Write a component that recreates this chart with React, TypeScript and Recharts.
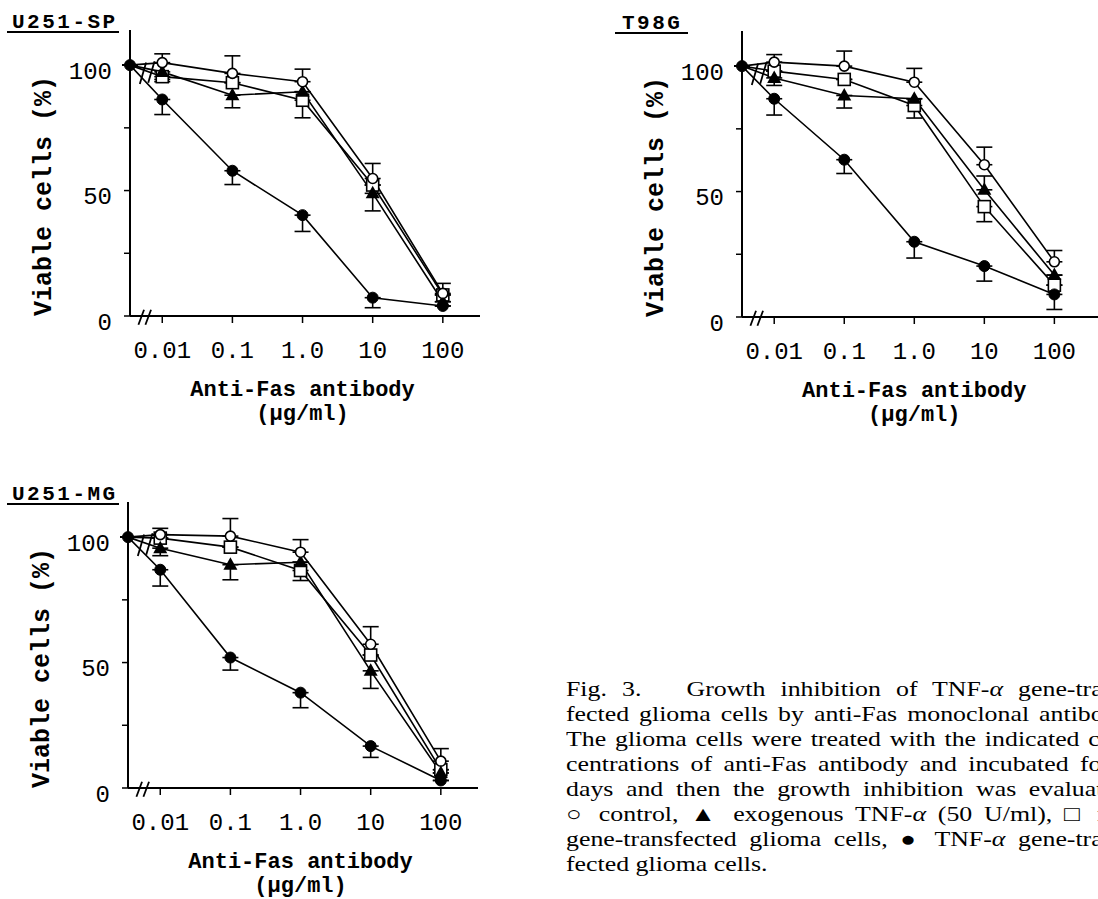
import React from 'react'
import { LineChart, Line, XAxis, YAxis, ErrorBar, ReferenceLine } from 'recharts'

// dose positions on the log axis; first entry is the untreated (0) point left of the break
const doseIndex = [-0.46, 0, 1, 2, 3, 4]
const doseTicks = [0, 1, 2, 3, 4]
const doseLabels = ['0.01', '0.1', '1.0', '10', '100']
const yTicks = [0, 25, 50, 75, 100]

// errors: positive = bar drawn upward, negative = downward
// U251-SP
const spCtrl = [100, 101, 96.7, 93.4, 54.8, 9]
const spCtrlErr = [0, 3.5, 7, 5, 6, 4]
const spTnf = [100, 97.3, 88, 89.4, 48.9, 5.7]
const spTnfErr = [0, -3, -5, 0, -7, 0]
const spNeo = [100, 95.4, 93, 86, 52.2, 8.4]
const spNeoErr = [0, -2, 0, -7, 0, 0]
const spGene = [100, 86.3, 57.9, 40.2, 7.3, 4]
const spGeneErr = [0, -6, -5.5, -6.5, -4, 0]

// T98G
const t98Ctrl = [100, 101.6, 100, 93.6, 60.7, 22]
const t98CtrlErr = [0, 3, 6, 5.5, 7, 4.5]
const t98Tnf = [100, 95.3, 88.3, 87, 50.7, 16.7]
const t98TnfErr = [0, -3, -5, 0, 5.5, 0]
const t98Neo = [100, 98, 94.7, 84.3, 44, 12.7]
const t98NeoErr = [0, 0, 0, -5, -6, 0]
const t98Gene = [100, 87, 62.7, 30, 20.3, 9]
const t98GeneErr = [0, -6.5, -5.5, -6.5, -6, -6]

// U251-MG
const mgCtrl = [100, 101, 100.4, 94, 57.3, 10.7]
const mgCtrlErr = [0, 2.5, 7, 5, 7, 5]
const mgTnf = [100, 95.6, 89, 90, 46.7, 6]
const mgTnfErr = [0, -3, -6, 0, -7, 0]
const mgNeo = [100, 99.6, 96, 86.7, 53, 7.3]
const mgNeoErr = [0, 0, 0, -4, 0, 0]
const mgGene = [100, 87, 52, 38, 16.7, 3]
const mgGeneErr = [0, -6.5, -5, -6, -4.5, 0]

const captionLines = [
  <>Fig. 3.&nbsp;&nbsp; Growth inhibition of TNF-<i>α</i> gene-trans-</>,
  <>fected glioma cells by anti-Fas monoclonal antibody.</>,
  <>The glioma cells were treated with the indicated con-</>,
  <>centrations of anti-Fas antibody and incubated for 3</>,
  <>days and then the growth inhibition was evaluated.</>,
  <>○ control, ▲ exogenous TNF-<i>α</i> (50 U/ml), □ neo</>,
  <>gene-transfected glioma cells, ● TNF-<i>α</i> gene-trans-</>,
  <>fected glioma cells.</>,
]

const MONO = '"Liberation Mono", "DejaVu Sans Mono", monospace'
const SERIF = '"Liberation Serif", "DejaVu Serif", serif'

const pair = (e: number) => (e >= 0 ? [0, e] : [-e, 0])

function buildRows(ctrl: number[], ctrlErr: number[], tnf: number[], tnfErr: number[],
  neo: number[], neoErr: number[], gene: number[], geneErr: number[]) {
  return doseIndex.map((x, i) => ({
    x,
    ctrl: ctrl[i], ctrlErr: pair(ctrlErr[i]),
    tnf: tnf[i], tnfErr: pair(tnfErr[i]),
    neo: neo[i], neoErr: pair(neoErr[i]),
    gene: gene[i], geneErr: pair(geneErr[i]),
  }))
}

const makeDot = (kind: string) => (props: any) => {
  const { cx, cy, index, payload } = props
  const key = `${kind}-${index}`
  if (cx == null || cy == null || (payload.x < 0 && kind !== 'gene')) return <g key={key} />
  if (kind === 'ctrl') return <circle key={key} cx={cx} cy={cy} r={5} fill="#fff" stroke="#000" strokeWidth={1.6} />
  if (kind === 'gene') return <circle key={key} cx={cx} cy={cy} r={5.5} fill="#000" stroke="#000" />
  if (kind === 'neo') return <rect key={key} x={cx - 6} y={cy - 6} width={12} height={12} fill="#fff" stroke="#000" strokeWidth={1.6} />
  return <polygon key={key} points={`${cx},${cy - 7.5} ${cx - 7},${cy + 5} ${cx + 7},${cy + 5}`} fill="#000" />
}

const XTick = ({ x, y, payload }: any) => (
  <text x={x} y={y} dy="0.71em" textAnchor="middle" fontFamily={MONO} fontSize={24} fill="#000">
    {doseLabels[payload.value]}
  </text>
)

const YTick = ({ x, y, payload }: any) =>
  payload.value % 50 === 0 ? (
    <text x={x} y={y + 7} textAnchor="end" dominantBaseline="central" fontFamily={MONO} fontSize={24} fill="#000">
      {payload.value}
    </text>
  ) : <g />

// "//" axis-break marks, in data units
const breakMarks = [
  [-0.34, -3.5, -0.26, 2.5], [-0.24, -3.5, -0.16, 2.5],
  [-0.32, 92.5, -0.23, 101], [-0.2, 93, -0.11, 101.5],
]

function Panel({ title, rows, left, top, width, xMax, titleLeft, titlePad }: any) {
  const xMin = doseIndex[0]
  const xLabel = (p: any) => {
    const vb = p.viewBox
    const cx = vb.x + ((2 - xMin) / (xMax - xMin)) * vb.width
    return (
      <g fontFamily={MONO} fontWeight="bold" fontSize={22} fill="#000">
        <text x={cx} y={vb.y + 74} textAnchor="middle" dominantBaseline="central">Anti-Fas antibody</text>
        <text x={cx} y={vb.y + 98} textAnchor="middle" dominantBaseline="central">(μg/ml)</text>
      </g>
    )
  }
  const yLabel = (p: any) => {
    const vb = p.viewBox
    const cx = vb.x + vb.width - 86
    const cy = vb.y + vb.height - 120
    return (
      <text x={cx} y={cy} transform={`rotate(-90 ${cx} ${cy})`} textAnchor="middle" dominantBaseline="central"
        fontFamily={MONO} fontWeight="bold" fontSize={25} fill="#000">Viable cells (%)</text>
    )
  }
  return (
    <>
      <div style={{
        position: 'absolute', left: titleLeft, top: top + 14, lineHeight: '17px', padding: titlePad,
        borderBottom: '2px solid #000', fontFamily: MONO, fontWeight: 'bold', fontSize: 21, letterSpacing: 2.5,
      }}>{title}</div>
      <div style={{ position: 'absolute', left, top }}>
        <LineChart width={width} height={430} data={rows} margin={{ top: 30, right: 20, left: 0, bottom: 0 }}>
          <XAxis dataKey="x" type="number" domain={[xMin, xMax]} ticks={doseTicks} tick={<XTick />}
            axisLine={{ stroke: '#000', strokeWidth: 2 }} tickLine={{ stroke: '#000', strokeWidth: 1.5 }}
            tickSize={7} tickMargin={18} height={114} label={{ content: xLabel }} />
          <YAxis type="number" domain={[0, 114]} ticks={yTicks} tick={<YTick />} width={130}
            axisLine={{ stroke: '#000', strokeWidth: 2 }} tickLine={{ stroke: '#000', strokeWidth: 1.5 }}
            tickSize={6} tickMargin={12} label={{ content: yLabel }} />
          {breakMarks.map((b, i) => (
            <ReferenceLine key={i} segment={[{ x: b[0], y: b[1] }, { x: b[2], y: b[3] }]}
              stroke="#000" strokeWidth={1.8} ifOverflow="visible" />
          ))}
          <Line type="linear" dataKey="neo" stroke="#000" strokeWidth={1.6} dot={makeDot('neo')} activeDot={false} isAnimationActive={false}>
            <ErrorBar dataKey="neoErr" width={8} stroke="#000" strokeWidth={1.6} direction="y" isAnimationActive={false} />
          </Line>
          <Line type="linear" dataKey="tnf" stroke="#000" strokeWidth={1.6} dot={makeDot('tnf')} activeDot={false} isAnimationActive={false}>
            <ErrorBar dataKey="tnfErr" width={8} stroke="#000" strokeWidth={1.6} direction="y" isAnimationActive={false} />
          </Line>
          <Line type="linear" dataKey="ctrl" stroke="#000" strokeWidth={1.6} dot={makeDot('ctrl')} activeDot={false} isAnimationActive={false}>
            <ErrorBar dataKey="ctrlErr" width={8} stroke="#000" strokeWidth={1.6} direction="y" isAnimationActive={false} />
          </Line>
          <Line type="linear" dataKey="gene" stroke="#000" strokeWidth={1.6} dot={makeDot('gene')} activeDot={false} isAnimationActive={false}>
            <ErrorBar dataKey="geneErr" width={8} stroke="#000" strokeWidth={1.6} direction="y" isAnimationActive={false} />
          </Line>
        </LineChart>
      </div>
    </>
  )
}

export default function App() {
  const spRows = buildRows(spCtrl, spCtrlErr, spTnf, spTnfErr, spNeo, spNeoErr, spGene, spGeneErr)
  const t98Rows = buildRows(t98Ctrl, t98CtrlErr, t98Tnf, t98TnfErr, t98Neo, t98NeoErr, t98Gene, t98GeneErr)
  const mgRows = buildRows(mgCtrl, mgCtrlErr, mgTnf, mgTnfErr, mgNeo, mgNeoErr, mgGene, mgGeneErr)
  return (
    <div style={{ position: 'absolute', left: 0, top: 0, width: 1098, height: 899, overflow: 'hidden', background: '#fff' }}>
      <Panel title="U251-SP" rows={spRows} left={0} top={0} width={500} xMax={4.53} titleLeft={7} titlePad="0 1px 0 5px" />
      <Panel title="T98G" rows={t98Rows} left={612} top={1} width={510} xMax={4.68} titleLeft={615} titlePad="0 6px 0 7px" />
      <Panel title="U251-MG" rows={mgRows} left={-2} top={472} width={500} xMax={4.53} titleLeft={7} titlePad="0 1px 0 5px" />
      <div style={{
        position: 'absolute', left: 566, top: 677, transform: 'scaleX(1.23)', transformOrigin: 'left top',
        fontFamily: SERIF, fontSize: 21, lineHeight: '25px', color: '#000',
      }}>
        {captionLines.map((l, i) => (
          <div key={i} style={{
            width: 462, whiteSpace: 'nowrap', textAlign: 'justify',
            textAlignLast: i === captionLines.length - 1 ? 'left' : 'justify',
          }}>{l}</div>
        ))}
      </div>
    </div>
  )
}
